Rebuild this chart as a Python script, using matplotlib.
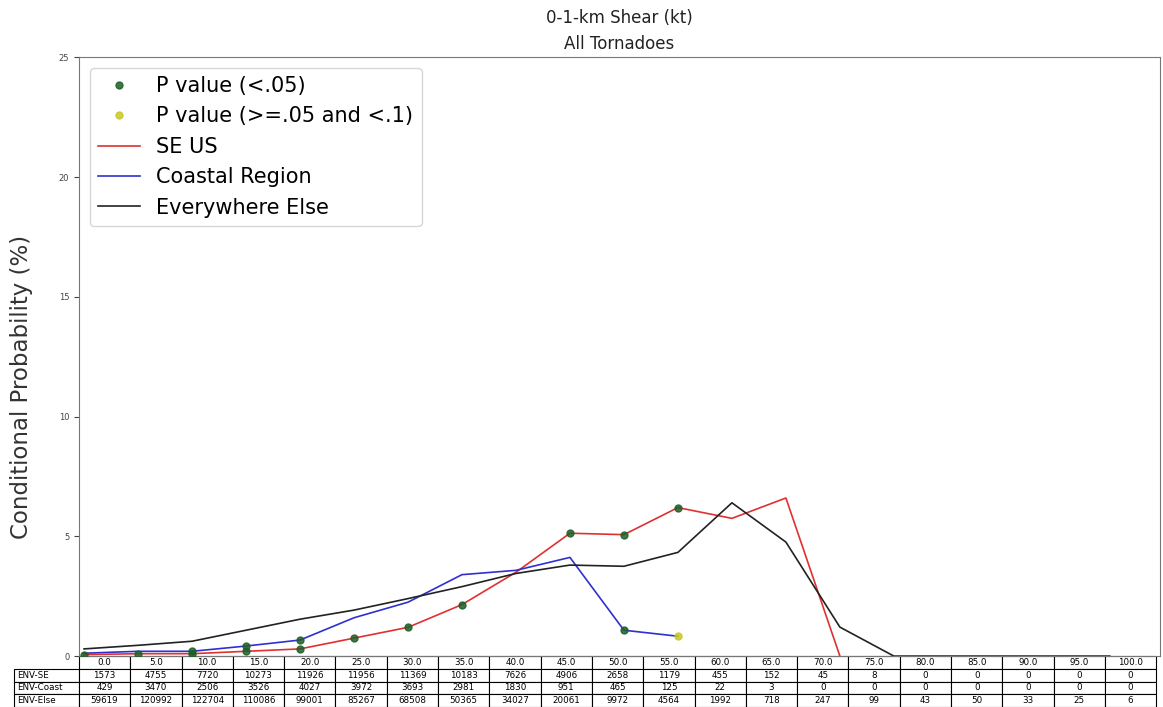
import numpy as np
import matplotlib
matplotlib.use('Agg')
import matplotlib.pyplot as plt

# bins of 0-1 km shear (kt)
bins = [0, 5, 10, 15, 20, 25, 30, 35, 40, 45, 50, 55, 60, 65, 70, 75, 80, 85, 90, 95, 100]

# conditional probability (%) per region
se_x = [0, 5, 10, 15, 20, 25, 30, 35, 40, 45, 50, 55, 60, 65, 70]
se_y = [0.06, 0.1, 0.1, 0.2, 0.3, 0.75, 1.2, 2.15, 3.5, 5.13, 5.07, 6.2, 5.75, 6.6, 0.0]

coast_x = [0, 5, 10, 15, 20, 25, 30, 35, 40, 45, 50, 55]
coast_y = [0.12, 0.2, 0.2, 0.42, 0.67, 1.6, 2.25, 3.4, 3.58, 4.12, 1.08, 0.83]

else_x = [0, 5, 10, 15, 20, 25, 30, 35, 40, 45, 50, 55, 60, 65, 70, 75, 80, 85, 90, 95]
else_y = [0.3, 0.45, 0.62, 1.08, 1.54, 1.92, 2.4, 2.9, 3.45, 3.8, 3.75, 4.33, 6.4, 4.76, 1.21,
          0.0, 0.0, 0.0, 0.0, 0.0]

# significant points
sig_x = [0, 5, 10, 15, 20, 25, 30, 35, 45, 50, 55, 10, 15, 20, 50]
sig_y = [0.06, 0.1, 0.1, 0.2, 0.3, 0.75, 1.2, 2.15, 5.13, 5.07, 6.2, 0.2, 0.42, 0.67, 1.08]
weak_x = [55]
weak_y = [0.83]

# sample counts for the table
row_names = ['ENV-SE', 'ENV-Coast', 'ENV-Else']
env_se = [1573, 4755, 7720, 10273, 11926, 11956, 11369, 10183, 7626, 4906, 2658, 1179, 455, 152, 45, 8, 0, 0, 0, 0, 0]
env_coast = [429, 3470, 2506, 3526, 4027, 3972, 3693, 2981, 1830, 951, 465, 125, 22, 3, 0, 0, 0, 0, 0, 0, 0]
env_else = [59619, 120992, 122704, 110086, 99001, 85267, 68508, 50365, 34027, 20061, 9972, 4564, 1992, 718, 247, 99, 43, 50, 33, 25, 6]

fig = plt.figure(figsize=(11.63, 7.07), dpi=100)
ax = fig.add_axes([0.068, 0.072, 0.929, 0.847])

ax.plot(sig_x, sig_y, 'o', color='#1e5e28', markersize=5, alpha=0.85, zorder=3, label='P value (<.05)')
ax.plot(weak_x, weak_y, 'o', color='#c8c820', markersize=5, alpha=0.85, zorder=3, label='P value (>=.05 and <.1)')
ax.plot(se_x, se_y, color='#e03030', linewidth=1.2, label='SE US')
ax.plot(coast_x, coast_y, color='#3030d0', linewidth=1.2, label='Coastal Region')
ax.plot(else_x, else_y, color='#222222', linewidth=1.2, label='Everywhere Else')

ax.set_xlim(-0.46, 99.6)
ax.set_ylim(0, 25)
ax.set_yticks([0, 5, 10, 15, 20, 25])
ax.tick_params(axis='y', labelsize=6, colors='#444444')
ax.set_xticks([])
ax.set_ylabel('Conditional Probability (%)', fontsize=16.5, color='#333333')
ax.yaxis.set_label_coords(-0.043, 0.45)
ax.set_title('0-1-km Shear (kt)\nAll Tornadoes', fontsize=12, color='#222222', linespacing=1.55, pad=6)
for s in ax.spines.values():
    s.set_color('#777777')

ax.legend(loc='upper left', fontsize=15, numpoints=1, handlelength=2.0)

# first column holds the row names
cells = []
for name, vals in zip(row_names, [env_se, env_coast, env_else]):
    cells.append([name] + [str(v) for v in vals])
labels = [''] + ['%.1f' % b for b in bins]
rlw = 65 / 1081.0
tbl = ax.table(cellText=cells, colLabels=labels, cellLoc='center',
               colWidths=[rlw] + [1 / 21.0] * 21,
               bbox=[-rlw, -0.085, 1 + rlw - 0.003, 0.085])
tbl.auto_set_font_size(False)
tbl.set_fontsize(6.3)
for (r, c), cell in tbl.get_celld().items():
    cell.set_linewidth(0.8)
    if r == 0 and c == 0:
        cell.visible_edges = ''
    if c == 0 and r > 0:
        cell.get_text().set_horizontalalignment('left')
        cell.PAD = 0.05

fig.savefig('out.png', dpi=100)
